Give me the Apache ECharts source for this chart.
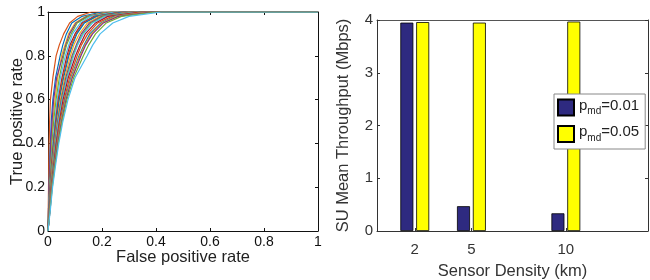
<!DOCTYPE html>
<html>
<head>
<meta charset="utf-8">
<title>ROC and throughput</title>
<script src="https://cdn.jsdelivr.net/npm/echarts@6/dist/echarts.min.js"></script>
</head>
<body style="margin:0;background:#fff;">
<div id="main" style="width:650px;height:280px;"></div>
<script>
// ROC curves: each curve lists the false positive rate at these true positive rates
var tprLevels = [0, 0.1, 0.2, 0.3, 0.4, 0.5, 0.6, 0.7, 0.8, 0.85, 0.9, 0.95, 0.98, 1];
var rocFpr = [
  [0, 0.001, 0.002, 0.003, 0.004, 0.006, 0.009, 0.018, 0.030, 0.042, 0.058, 0.080, 0.110, 0.16],
  [0, 0.002, 0.004, 0.006, 0.009, 0.012, 0.018, 0.028, 0.045, 0.055, 0.068, 0.088, 0.125, 0.20],
  [0, 0.002, 0.005, 0.008, 0.012, 0.018, 0.026, 0.036, 0.050, 0.063, 0.076, 0.100, 0.140, 0.22],
  [0, 0.002, 0.004, 0.007, 0.010, 0.015, 0.021, 0.032, 0.055, 0.066, 0.080, 0.104, 0.145, 0.23],
  [0, 0.003, 0.006, 0.010, 0.015, 0.021, 0.030, 0.042, 0.058, 0.069, 0.086, 0.108, 0.150, 0.24],
  [0, 0.003, 0.007, 0.012, 0.018, 0.025, 0.034, 0.046, 0.064, 0.077, 0.091, 0.120, 0.158, 0.25],
  [0, 0.004, 0.008, 0.013, 0.020, 0.028, 0.038, 0.052, 0.070, 0.082, 0.100, 0.126, 0.172, 0.27],
  [0, 0.004, 0.008, 0.014, 0.021, 0.030, 0.040, 0.055, 0.074, 0.087, 0.104, 0.130, 0.176, 0.27],
  [0, 0.004, 0.009, 0.015, 0.022, 0.031, 0.042, 0.058, 0.077, 0.091, 0.107, 0.135, 0.180, 0.28],
  [0, 0.005, 0.010, 0.016, 0.024, 0.034, 0.046, 0.062, 0.083, 0.096, 0.116, 0.146, 0.192, 0.30],
  [0, 0.005, 0.011, 0.018, 0.026, 0.036, 0.049, 0.066, 0.089, 0.105, 0.123, 0.154, 0.200, 0.31],
  [0, 0.006, 0.011, 0.019, 0.027, 0.038, 0.051, 0.069, 0.092, 0.108, 0.128, 0.160, 0.205, 0.32],
  [0, 0.006, 0.012, 0.020, 0.028, 0.039, 0.053, 0.071, 0.095, 0.110, 0.131, 0.165, 0.212, 0.33],
  [0, 0.006, 0.012, 0.021, 0.030, 0.042, 0.056, 0.075, 0.102, 0.119, 0.138, 0.176, 0.222, 0.34],
  [0, 0.007, 0.013, 0.022, 0.032, 0.044, 0.060, 0.080, 0.108, 0.124, 0.147, 0.184, 0.236, 0.35],
  [0, 0.007, 0.014, 0.023, 0.034, 0.047, 0.063, 0.085, 0.115, 0.134, 0.155, 0.196, 0.246, 0.37],
  [0, 0.007, 0.014, 0.024, 0.035, 0.048, 0.065, 0.087, 0.118, 0.137, 0.160, 0.200, 0.252, 0.37],
  [0, 0.008, 0.015, 0.025, 0.036, 0.050, 0.067, 0.090, 0.122, 0.140, 0.165, 0.205, 0.260, 0.38],
  [0, 0.008, 0.016, 0.026, 0.038, 0.052, 0.070, 0.095, 0.131, 0.151, 0.176, 0.216, 0.272, 0.40],
  [0, 0.009, 0.017, 0.028, 0.040, 0.055, 0.074, 0.100, 0.145, 0.166, 0.193, 0.240, 0.300, 0.42]
];
var rocColors = ['#D95319', '#0072BD', '#EDB120', '#7E2F8E', '#77AC30', '#4DBEEE', '#A2142F'];

// Bar chart
var densityKm = [2, 5, 10];
var thrLow = [3.95, 0.47, 0.335];   // p_md = 0.01
var thrHigh = [3.96, 3.95, 3.97];   // p_md = 0.05
var barNames = ['p_md=0.01', 'p_md=0.05'];

var font = 'Liberation Sans';
var chart = echarts.init(document.getElementById('main'));

var series = [];
for (var i = 0; i < rocFpr.length; i++) {
  var pts = [];
  for (var j = 0; j < tprLevels.length; j++) pts.push([rocFpr[i][j], tprLevels[j]]);
  pts.push([1, 1]);
  series.push({
    type: 'line', xAxisIndex: 0, yAxisIndex: 0, data: pts, symbol: 'none',
    lineStyle: { width: 1.2, color: rocColors[i % rocColors.length] },
    silent: true
  });
}
series.push({
  name: barNames[0], type: 'bar', xAxisIndex: 2, yAxisIndex: 2, barWidth: 13, barGap: '22%',
  data: densityKm.map(function (d, k) { return [d, thrLow[k]]; }),
  itemStyle: { color: '#2E2A80', borderColor: '#000', borderWidth: 0.8 }
});
series.push({
  name: barNames[1], type: 'bar', xAxisIndex: 2, yAxisIndex: 2, barWidth: 13, barGap: '22%',
  data: densityKm.map(function (d, k) { return [d, thrHigh[k]]; }),
  itemStyle: { color: '#FFFF00', borderColor: '#000', borderWidth: 0.8 }
});

function axisBase(color, show, size) {
  return {
    nameMoveOverlap: false,
    axisLine: { show: true, onZero: false, lineStyle: { color: color, width: 1 } },
    axisTick: { show: true, inside: true, length: 3, lineStyle: { color: color } },
    axisLabel: { show: show, color: color, fontFamily: font, fontSize: size, margin: 5 },
    splitLine: { show: false }
  };
}
var nameStyle = function (c) { return { fontFamily: font, fontSize: 16.5, color: c }; };

var leftX = Object.assign(axisBase('#111', true, 14), {
  type: 'value', gridIndex: 0, min: 0, max: 1, interval: 0.2,
  name: 'False positive rate', nameLocation: 'middle', nameGap: 18,
  nameTextStyle: nameStyle('#222')
});
leftX.axisLabel.margin = 4;
var leftXTop = Object.assign(axisBase('#111', false, 14), {
  type: 'value', gridIndex: 0, position: 'top', min: 0, max: 1, interval: 0.2
});
var leftY = Object.assign(axisBase('#111', true, 14), {
  type: 'value', gridIndex: 0, min: 0, max: 1, interval: 0.2,
  name: 'True positive rate', nameLocation: 'middle', nameGap: 22,
  nameTextStyle: nameStyle('#222')
});
leftY.axisLabel.margin = 3;
var leftYRight = Object.assign(axisBase('#111', false, 14), {
  type: 'value', gridIndex: 0, position: 'right', min: 0, max: 1, interval: 0.2
});

var barX = Object.assign(axisBase('#333', true, 15), {
  type: 'value', gridIndex: 1, min: 0, max: 14.35,
  name: 'Sensor Density (km)', nameLocation: 'middle', nameGap: 31.5,
  nameTextStyle: nameStyle('#333')
});
barX.axisLabel.customValues = densityKm;
barX.axisTick.customValues = densityKm;
barX.axisLabel.margin = 11;
var barXTop = Object.assign(axisBase('#555', false, 15), {
  type: 'value', gridIndex: 1, position: 'top', min: 0, max: 14.35
});
barXTop.axisTick.show = false;
var barY = Object.assign(axisBase('#333', true, 15), {
  type: 'value', gridIndex: 1, min: 0, max: 4, interval: 1,
  name: 'SU Mean Throughput (Mbps)', nameLocation: 'middle', nameGap: 25,
  nameTextStyle: nameStyle('#333')
});
barY.axisLabel.margin = 4;
var barYRight = Object.assign(axisBase('#333', false, 15), {
  type: 'value', gridIndex: 1, position: 'right', min: 0, max: 4, interval: 1
});

chart.setOption({
  animation: false,
  backgroundColor: '#fff',
  grid: [
    { left: 48, top: 12, width: 270, height: 219, outerBoundsMode: 'none' },
    { left: 377, top: 20, width: 271, height: 211, outerBoundsMode: 'none' }
  ],
  xAxis: [leftX, leftXTop, barX, barXTop],
  yAxis: [leftY, leftYRight, barY, barYRight],
  legend: {
    data: barNames, orient: 'vertical', left: 554, top: 94,
    padding: [4, 6, 6, 3], itemGap: 8, itemWidth: 16, itemHeight: 16,
    backgroundColor: '#fff', borderColor: '#888', borderWidth: 1,
    icon: 'rect', selectedMode: false,
    formatter: function (name) {
      return '{a|p}{b|md}{a|' + name.split('md')[1] + '}';
    },
    textStyle: {
      rich: {
        a: { fontFamily: font, fontSize: 15, color: '#222', padding: [0, 0, 4, 0] },
        b: { fontFamily: font, fontSize: 10, color: '#222', padding: [8, 0, 0, 0] }
      }
    }
  },
  series: series
});
</script>
</body>
</html>
